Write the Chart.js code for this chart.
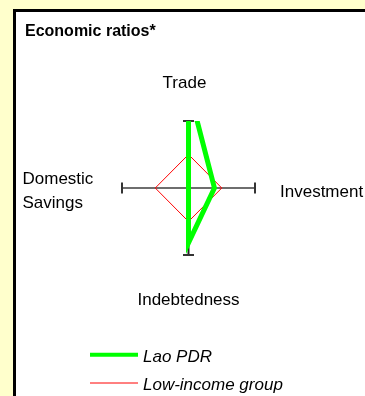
<!DOCTYPE html>
<html>
<head>
<meta charset="utf-8">
<script src="https://cdn.jsdelivr.net/npm/chart.js@4.4.1/dist/chart.umd.min.js"></script>
<style>
    html, body { margin: 0; padding: 0; }
    body { width: 365px; height: 396px; background: #ffffcc; position: relative; overflow: hidden; }
    #panel { position: absolute; left: 13px; top: 9px; width: 400px; height: 420px; background: #fff; border: 3px solid #000; }
    canvas { position: absolute; left: 0; top: 0; }
</style>
</head>
<body>
<div id="panel"></div>
<canvas id="ratioChart" width="365" height="396"></canvas>
<script>
const chartTitle = 'Economic ratios*';
const categories = ['Trade', 'Investment', 'Indebtedness', 'Domestic Savings'];
const seriesNames = ['Lao PDR', 'Low-income group'];
const laoValues = [1.5, 0.39, 0.82, 0];
const lowIncomeValues = [0.5, 0.5, 0.5, 0.5];
const axisMax = 1;

// one axis per category: up, right, down, left
const angles = [90, 0, -90, 180];
const font = 'Arial, "Liberation Sans", sans-serif';

function toPoints(values) {
    const pts = values.map((v, i) => {
        const a = angles[i] * Math.PI / 180;
        return {
            x: Math.round(v * Math.cos(a) * 1e6) / 1e6,
            y: Math.round(v * Math.sin(a) * 1e6) / 1e6
        };
    });
    pts.push(pts[0]);
    return pts;
}

const diamondAxes = {
    id: 'diamondAxes',
    beforeDatasetsDraw(chart) {
        const { ctx, scales: { x, y } } = chart;
        const cx = x.getPixelForValue(0), cy = y.getPixelForValue(0);
        const left = x.getPixelForValue(-axisMax), right = x.getPixelForValue(axisMax);
        const top = y.getPixelForValue(axisMax), bottom = y.getPixelForValue(-axisMax);
        ctx.save();
        ctx.lineWidth = 2;
        ctx.strokeStyle = '#6e6e6e';
        ctx.beginPath();
        ctx.moveTo(left, cy);
        ctx.lineTo(right, cy);
        ctx.stroke();
        ctx.strokeStyle = '#222';
        ctx.beginPath();
        ctx.moveTo(cx, top);
        ctx.lineTo(cx, bottom);
        ctx.stroke();
        ctx.strokeStyle = '#333';
        ctx.beginPath();
        ctx.moveTo(left, cy - 5.5); ctx.lineTo(left, cy + 5.5);
        ctx.moveTo(right, cy - 5.5); ctx.lineTo(right, cy + 5.5);
        ctx.moveTo(cx - 5.5, top); ctx.lineTo(cx + 5.5, top);
        ctx.moveTo(cx - 5.5, bottom); ctx.lineTo(cx + 5.5, bottom);
        ctx.stroke();
        ctx.restore();
    },
    afterDraw(chart) {
        const { ctx, scales: { x, y } } = chart;
        const cx = x.getPixelForValue(0), cy = y.getPixelForValue(0);
        const left = x.getPixelForValue(-axisMax), right = x.getPixelForValue(axisMax);
        const top = y.getPixelForValue(axisMax), bottom = y.getPixelForValue(-axisMax);
        ctx.save();
        ctx.fillStyle = '#000';
        ctx.textBaseline = 'alphabetic';

        ctx.font = 'bold 16px ' + font;
        ctx.textAlign = 'left';
        ctx.fillText(chartTitle, 25, 36);

        ctx.font = '17px ' + font;
        ctx.textAlign = 'center';
        ctx.fillText(categories[0], cx - 4, top - 33);
        ctx.fillText(categories[2], cx, bottom + 50);
        ctx.textAlign = 'left';
        ctx.fillText(categories[1], right + 25, cy + 8.5);
        categories[3].split(' ').forEach((word, i) => {
            ctx.fillText(word, left - 99.5, cy - 4 + i * 24);
        });

        // legend
        const rows = [354.7, 383];
        ctx.font = 'italic 17px ' + font;
        chart.data.datasets.forEach((ds, i) => {
            ctx.strokeStyle = ds.borderColor;
            ctx.lineWidth = ds.borderWidth > 2 ? 4 : 1;
            ctx.beginPath();
            ctx.moveTo(90, rows[i]);
            ctx.lineTo(138, rows[i]);
            ctx.stroke();
            ctx.fillText(ds.label, 143, rows[i] + 7);
        });
        ctx.restore();
    }
};

new Chart(document.getElementById('ratioChart'), {
    type: 'scatter',
    data: {
        datasets: [{
            label: seriesNames[0],
            data: toPoints(laoValues),
            showLine: true,
            borderColor: '#00ff00',
            borderWidth: 5,
            borderJoinStyle: 'miter',
            pointRadius: 0,
            clip: 0
        }, {
            label: seriesNames[1],
            data: toPoints(lowIncomeValues),
            showLine: true,
            borderColor: '#ff0000',
            borderWidth: 1,
            pointRadius: 0,
            clip: 0
        }]
    },
    options: {
        responsive: false,
        animation: false,
        events: [],
        layout: { padding: { left: 122, right: 110, top: 121, bottom: 141 } },
        scales: {
            x: { display: false, min: -axisMax, max: axisMax },
            y: { display: false, min: -axisMax, max: axisMax }
        },
        plugins: {
            legend: { display: false },
            tooltip: { enabled: false }
        }
    },
    plugins: [diamondAxes]
});
</script>
</body>
</html>
